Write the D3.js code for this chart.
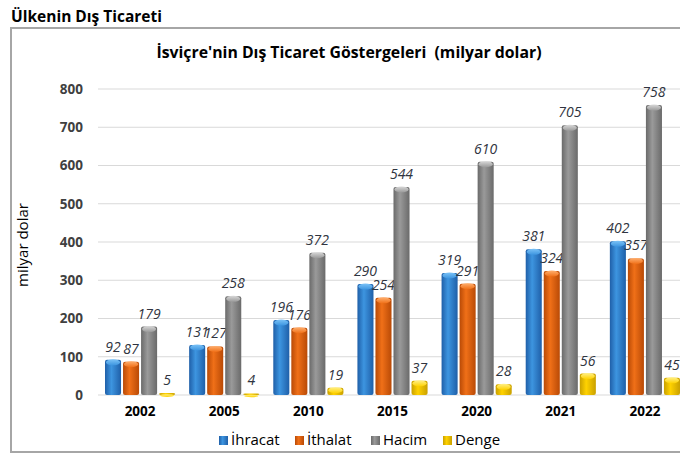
<!DOCTYPE html>
<html>
<head>
<meta charset="utf-8">
<script src="https://cdn.jsdelivr.net/npm/d3@7"></script>
<style>
  body { margin: 0; background: #fff; }
  text { font-family: "Open Sans", "Noto Sans", sans-serif; }
</style>
</head>
<body>
<svg id="chart" width="680" height="454"></svg>
<script>
var years = ["2002", "2005", "2010", "2015", "2020", "2021", "2022"];
var seriesNames = ["İhracat", "İthalat", "Hacim", "Denge"];
var ihracat = [92, 131, 196, 290, 319, 381, 402];
var ithalat = [87, 127, 176, 254, 291, 324, 357];
var hacim = [179, 258, 372, 544, 610, 705, 758];
var denge = [5, 4, 19, 37, 28, 56, 45];
var yTicks = [0, 100, 200, 300, 400, 500, 600, 700, 800];

var seriesValues = [ihracat, ithalat, hacim, denge];
var colors = [
    {dark: "#1f5fa8", mid: "#3d95e0", light: "#7cc3f7"},
    {dark: "#b94a06", mid: "#f07018", light: "#ffb070"},
    {dark: "#6a6a6a", mid: "#9a9a9a", light: "#d8d8d8"},
    {dark: "#c9a000", mid: "#ffd200", light: "#fff08a"}
];

var svg = d3.select("#chart");
var defs = svg.append("defs");

colors.forEach(function(c, i) {
    var gr = defs.append("linearGradient").attr("id", "grad" + i)
        .attr("x1", "0%").attr("x2", "100%").attr("y1", "0%").attr("y2", "0%");
    gr.append("stop").attr("offset", "0%").attr("stop-color", c.dark);
    gr.append("stop").attr("offset", "40%").attr("stop-color", c.mid);
    gr.append("stop").attr("offset", "100%").attr("stop-color", c.dark);
    var cap = defs.append("linearGradient").attr("id", "cap" + i)
        .attr("x1", "0%").attr("x2", "0%").attr("y1", "0%").attr("y2", "100%");
    cap.append("stop").attr("offset", "0%").attr("stop-color", c.light);
    cap.append("stop").attr("offset", "100%").attr("stop-color", c.mid);
});

// page heading
svg.append("text")
    .attr("x", 11).attr("y", 22)
    .attr("font-size", 15.5).attr("font-weight", "bold").attr("fill", "#000")
    .text("Ülkenin Dış Ticareti");

// frame
svg.append("rect")
    .attr("x", 11).attr("y", 28).attr("width", 700).attr("height", 424)
    .attr("fill", "none").attr("stroke", "#a6a6a6").attr("stroke-width", 2);

// chart title (keep the double space)
svg.append("text")
    .attr("x", 349).attr("y", 58)
    .attr("text-anchor", "middle")
    .attr("xml:space", "preserve")
    .style("white-space", "pre")
    .attr("font-size", 15.8).attr("font-weight", "bold").attr("fill", "#000")
    .text("İsviçre'nin Dış Ticaret Göstergeleri  (milyar dolar)");

var x0 = d3.scaleBand().domain(years).range([98, 687]).paddingInner(0).paddingOuter(0);
var x1 = d3.scaleBand().domain(d3.range(4)).range([7, x0.bandwidth() - 7]).paddingInner(0.11);
var y = d3.scaleLinear().domain([0, 800]).range([395, 89]);

// grid
svg.append("g").selectAll("line")
    .data(yTicks)
    .enter().append("line")
    .attr("x1", 98).attr("x2", 680)
    .attr("y1", function(d) { return y(d); })
    .attr("y2", function(d) { return y(d); })
    .attr("stroke", "#d9d9d9").attr("stroke-width", 1.2);

// y axis
var yAxis = svg.append("g")
    .attr("transform", "translate(90,0)")
    .call(d3.axisLeft(y).tickValues(yTicks).tickSize(0).tickPadding(7));
yAxis.select(".domain").remove();
yAxis.selectAll("text")
    .attr("font-size", 13.5).attr("font-weight", "bold").attr("fill", "#404040")
    .style("font-family", "'Open Sans', sans-serif");

svg.append("text")
    .attr("transform", "translate(28,245) rotate(-90)")
    .attr("text-anchor", "middle")
    .attr("font-size", 15).attr("fill", "#000")
    .text("milyar dolar");

// x axis
var xAxis = svg.append("g")
    .attr("transform", "translate(0,395)")
    .call(d3.axisBottom(x0).tickSize(0).tickPadding(11));
xAxis.select(".domain").remove();
xAxis.selectAll("text")
    .attr("font-size", 13.5).attr("font-weight", "bold").attr("fill", "#000")
    .style("font-family", "'Open Sans', sans-serif");

// bars
var groups = svg.append("g").selectAll(".grp")
    .data(years)
    .enter().append("g")
    .attr("class", "grp")
    .attr("transform", function(d) { return "translate(" + x0(d) + ",0)"; });

groups.each(function(yr, yi) {
    var g = d3.select(this);
    seriesValues.forEach(function(vals, si) {
        var v = vals[yi];
        var bx = x1(si), bw = x1.bandwidth();
        var top = y(v);
        var h = y(0) - top;
        g.append("rect")
            .attr("x", bx).attr("y", top)
            .attr("width", bw).attr("height", h)
            .attr("rx", 2)
            .attr("fill", "url(#grad" + si + ")");
        g.append("ellipse")
            .attr("cx", bx + bw / 2).attr("cy", top + 2.5)
            .attr("rx", bw / 2 - 1).attr("ry", Math.min(3, h / 2 + 0.5))
            .attr("fill", "url(#cap" + si + ")");
        g.append("text")
            .attr("x", bx + bw / 2).attr("y", top - 8)
            .attr("text-anchor", "middle")
            .attr("font-size", 14).attr("font-style", "italic")
            .attr("fill", "#2f3440")
            .text(v);
    });
});

// legend
var legendX = [231, 307, 383, 455];
var legend = svg.append("g").selectAll(".leg")
    .data(seriesNames)
    .enter().append("g")
    .attr("transform", function(d, i) { return "translate(" + legendX[i] + ",440)"; });
legend.append("rect")
    .attr("x", -12).attr("y", -4).attr("width", 9).attr("height", 9)
    .attr("fill", function(d, i) { return "url(#grad" + i + ")"; });
legend.append("text")
    .attr("x", 0).attr("y", 5)
    .attr("font-size", 15).attr("fill", "#000")
    .text(function(d) { return d; });
</script>
</body>
</html>
